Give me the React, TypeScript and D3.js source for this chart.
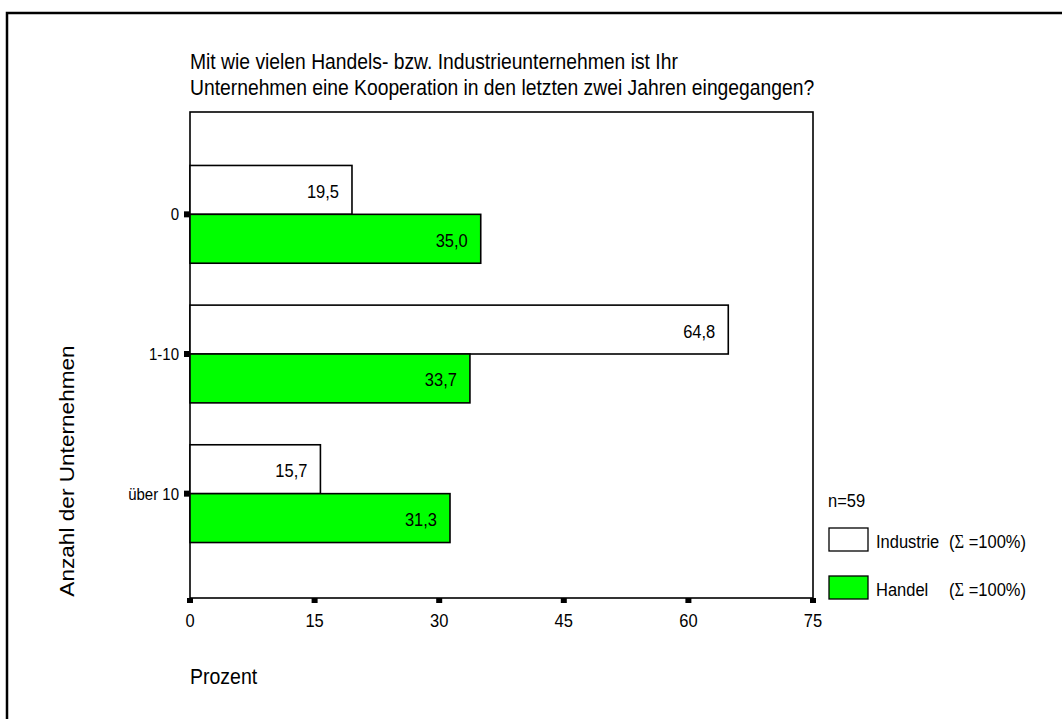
import React from "react";
import * as d3 from "d3";

// Survey categories (number of partner companies) and series shares in percent
const categories = ["0", "1-10", "über 10"];
const seriesNames = ["Industrie", "Handel"];
const industrieValues = [19.5, 64.8, 15.7];
const handelValues = [35.0, 33.7, 31.3];
const xTicks = [0, 15, 30, 45, 60, 75];
const titleLines = [
  "Mit wie vielen Handels- bzw. Industrieunternehmen ist Ihr",
  "Unternehmen eine Kooperation in den letzten zwei Jahren eingegangen?",
];
const legendLabels = ["Industrie", "Handel"];
const sampleSize = "n=59";

const W = 1062;
const H = 719;
const plot = { left: 190, right: 813, top: 112, bottom: 598 };
const FONT = "Arial, 'Liberation Sans', sans-serif";
const SERIF = "'Times New Roman', 'Liberation Serif', serif";
const STRETCH = 1.16; // glyphs are drawn slightly taller than wide
const seriesFill: Record<string, string> = { Industrie: "#ffffff", Handel: "#00ff00" };

const fmt = (v: number) => d3.format(".1f")(v).replace(".", ",");

type TxtProps = {
  x: number;
  y: number;
  size: number;
  anchor?: "start" | "middle" | "end";
  children: React.ReactNode;
};

// Text positioned at its baseline, stretched vertically
function Txt({ x, y, size, anchor = "start", children }: TxtProps) {
  return (
    <text
      transform={`translate(${x},${y}) scale(1,${STRETCH})`}
      textAnchor={anchor}
      fontSize={size}
      fill="#000"
    >
      {children}
    </text>
  );
}

export default function App() {
  const x = d3.scaleLinear().domain([0, 75]).range([plot.left, plot.right]);
  const y = d3
    .scaleBand<string>()
    .domain(categories)
    .range([plot.top - 1, plot.bottom - 1])
    .paddingInner(0.3)
    .paddingOuter(0.39);
  const ySub = d3.scaleBand<string>().domain(seriesNames).range([0, y.bandwidth()]);

  const rows = categories.map((c, i) => ({
    cat: c,
    values: [
      { name: "Industrie", v: industrieValues[i] },
      { name: "Handel", v: handelValues[i] },
    ],
  }));

  return (
    <svg
      width={W}
      height={H}
      style={{ position: "absolute", left: 0, top: 0, background: "#fff" }}
      fontFamily={FONT}
    >
      {/* outer frame */}
      <rect x={7} y={13} width={W + 20} height={H + 20} fill="none" stroke="#000" strokeWidth={2.5} />

      {/* title */}
      {titleLines.map((t, i) => (
        <Txt key={i} x={190} y={69 + i * 26} size={19.3}>
          {t}
        </Txt>
      ))}

      {/* plot frame */}
      <rect
        x={plot.left}
        y={plot.top}
        width={plot.right - plot.left}
        height={plot.bottom - plot.top}
        fill="#fff"
        stroke="#000"
        strokeWidth={1.6}
      />

      {/* bars */}
      {rows.map((r) => (
        <g key={r.cat} transform={`translate(0,${y(r.cat)})`}>
          {r.values.map((d) => {
            const y0 = ySub(d.name)!;
            const h = ySub.bandwidth();
            return (
              <g key={d.name}>
                <rect
                  x={x(0)}
                  y={y0}
                  width={x(d.v) - x(0)}
                  height={h}
                  fill={seriesFill[d.name]}
                  stroke="#000"
                  strokeWidth={1.6}
                />
                <Txt x={x(d.v) - 13} y={y0 + h / 2 + 8} size={16.5} anchor="end">
                  {fmt(d.v)}
                </Txt>
              </g>
            );
          })}
        </g>
      ))}

      {/* category ticks and labels */}
      {categories.map((c) => {
        const cy = y(c)! + y.bandwidth() / 2;
        return (
          <g key={c}>
            <rect x={plot.left - 6} y={cy - 3} width={6} height={6} fill="#000" />
            <Txt x={plot.left - 11} y={cy + 6} size={15}>
              <tspan textAnchor="end">{c}</tspan>
            </Txt>
          </g>
        );
      })}

      {/* value axis ticks and labels */}
      {xTicks.map((t) => (
        <g key={t}>
          <rect x={x(t) - 3} y={plot.bottom} width={6} height={5} fill="#000" />
          <Txt x={x(t)} y={627} size={16.5} anchor="middle">
            {t}
          </Txt>
        </g>
      ))}

      {/* axis titles */}
      <Txt x={190} y={684} size={19.5}>
        Prozent
      </Txt>
      <text
        transform={`translate(74,471) rotate(-90) scale(${STRETCH},1)`}
        textAnchor="middle"
        fontSize={19.5}
        fill="#000"
      >
        Anzahl der Unternehmen
      </text>

      {/* legend */}
      <Txt x={828} y={507} size={16.5}>
        {sampleSize}
      </Txt>
      {legendLabels.map((l, i) => {
        const ly = 528 + i * 48;
        return (
          <g key={l}>
            <rect x={829} y={ly} width={39} height={23} fill={seriesFill[l]} stroke="#000" strokeWidth={1.3} />
            <Txt x={876} y={ly + 20} size={16.5}>
              {l}
            </Txt>
            <Txt x={949} y={ly + 20} size={16.5}>
              (<tspan fontFamily={SERIF}>Σ</tspan> =100%)
            </Txt>
          </g>
        );
      })}
    </svg>
  );
}
